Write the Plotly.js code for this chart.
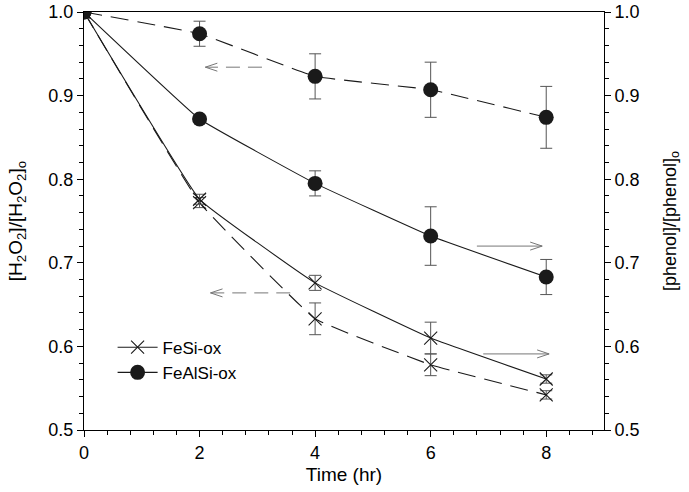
<!DOCTYPE html>
<html><head><meta charset="utf-8">
<script src="https://cdn.plot.ly/plotly-3.0.1.min.js"></script>
<style>body{margin:0;background:#fff}#chart{width:689px;height:492px}</style>
</head><body><div id="chart"></div>
<script>
const time = [0, 2, 4, 6, 8];
// H2O2 (left axis, dashed)
const feSiH2O2 = [1.0, 0.772, 0.633, 0.578, 0.542];
const feSiH2O2Err = [0, 0.006, 0.019, 0.013, 0.005];
const feAlSiH2O2 = [1.0, 0.974, 0.923, 0.907, 0.874];
const feAlSiH2O2Err = [0, 0.015, 0.027, 0.033, 0.037];
// phenol (right axis, solid)
const feSiPhenol = [1.0, 0.776, 0.676, 0.610, 0.561];
const feSiPhenolErr = [0, 0.006, 0.009, 0.019, 0.005];
const feAlSiPhenol = [1.0, 0.872, 0.795, 0.732, 0.683];
const feAlSiPhenolErr = [0, 0.004, 0.015, 0.035, 0.021];
const xTicks = [0, 2, 4, 6, 8];
const yTicks = [0.5, 0.6, 0.7, 0.8, 0.9, 1.0];
// arrows: [yLevel, xTail, xHead]
const arrowsLeft = [[0.934, 3.08, 2.10], [0.664, 3.57, 2.19]];
const arrowsRight = [[0.720, 6.80, 7.93], [0.591, 6.91, 8.05]];

const lineCol = '#1a1a1a';
const errCol = '#555';
const font = 'Arial, "Liberation Sans", sans-serif';
function eb(arr){return {type:'data', array:arr, visible:true, color:errCol, thickness:1, width:6};}
function tr(y, err, sym, dash, axis, name, show){
  const circ = sym === 'circle';
  return {x: time, y: y, yaxis: axis, name: name, showlegend: show, mode:'lines+markers', type:'scatter',
    line:{color:lineCol, width:1.1, dash:dash, shape:'spline', smoothing:0.25},
    marker:{symbol: circ ? 'circle' : 'x-thin-open', size: circ ? 15 : 13, color: lineCol,
      line:{color:lineCol, width: circ ? 0 : 1.1}},
    error_y: eb(err)};
}
const data = [
  tr(feSiH2O2, feSiH2O2Err, 'x', '18px,9px', 'y', 'FeSi-ox', false),
  tr(feAlSiH2O2, feAlSiH2O2Err, 'circle', '18px,9px', 'y', 'FeAlSi-ox', false),
  tr(feSiPhenol, feSiPhenolErr, 'x', 'solid', 'y2', 'FeSi-ox', true),
  tr(feAlSiPhenol, feAlSiPhenolErr, 'circle', 'solid', 'y2', 'FeAlSi-ox', true)
];
const arrowCol = '#777';
const shapes = [];
function addArrow(a, dash){
  const [yv, xt, xh] = a;
  shapes.push({type:'line', xref:'x', yref:'y', x0:xt, x1:xh, y0:yv, y1:yv, line:{color:arrowCol, width:1, dash:dash}});
  const dir = xh < xt ? 1 : -1;
  shapes.push({type:'path', xref:'x', yref:'y', xsizemode:'pixel', ysizemode:'pixel', xanchor:xh, yanchor:yv,
    path:`M ${dir*12},4 L 0,0 L ${dir*12},-4`, line:{color:arrowCol, width:1}});
}
arrowsLeft.forEach(a => addArrow(a, '14px,8px'));
arrowsRight.forEach(a => addArrow(a, 'solid'));

const axBase = {showline:true, linecolor:'#000', linewidth:1, ticks:'outside', ticklen:6, tickcolor:'#000',
  showgrid:false, zeroline:false, tickfont:{family:font, size:18, color:'#000'}};
const layout = {
  width:689, height:492, margin:{l:84, r:85, t:12, b:62}, paper_bgcolor:'#fff', plot_bgcolor:'#fff',
  font:{family:font, color:'#000'},
  xaxis: Object.assign({}, axBase, {range:[0, 9], tickvals:xTicks, mirror:true,
    minor:{dtick:0.4, tick0:0, ticks:'outside', ticklen:4, tickcolor:'#000'},
    title:{text:'Time (hr)', font:{family:font, size:19}, standoff:6}}),
  yaxis: Object.assign({}, axBase, {range:[0.5, 1.0], tickvals:yTicks, tickformat:'.1f',
    minor:{dtick:0.02, tick0:0.5, ticks:'outside', ticklen:4, tickcolor:'#000'},
    title:{text:'[H<sub>2</sub>O<sub>2</sub>]/[H<sub>2</sub>O<sub>2</sub>]<sub>o</sub>', font:{family:font, size:19}, standoff:20}}),
  yaxis2: Object.assign({}, axBase, {range:[0.5, 1.0], tickvals:yTicks, tickformat:'.1f', overlaying:'y', side:'right',
    minor:{dtick:0.02, tick0:0.5, ticks:'outside', ticklen:4, tickcolor:'#000'},
    title:{text:'[phenol]/[phenol]<sub>o</sub>', font:{family:font, size:18}, standoff:24}}),
  legend:{x:0.055, y:0.24, xanchor:'left', yanchor:'top', bgcolor:'rgba(0,0,0,0)', font:{family:font, size:17},
    itemwidth:40, tracegroupgap:0},
  shapes: shapes
};
Plotly.newPlot('chart', data, layout, {displayModeBar:false, staticPlot:true});
</script></body></html>
